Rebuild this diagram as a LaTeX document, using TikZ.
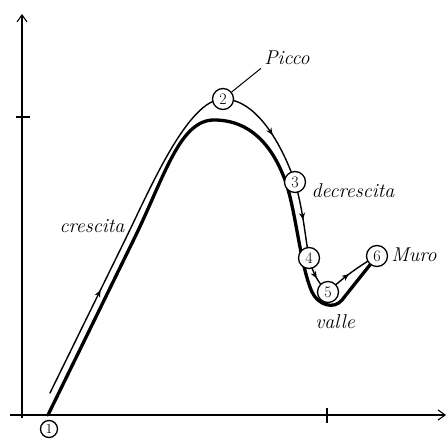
\documentclass[tikz,border=0pt]{standalone}
\usetikzlibrary{arrows.meta,decorations.markings}
\begin{document}
\begin{tikzpicture}[x=1pt,y=-1pt,
  axis/.style={line width=1.1pt,-{Straight Barb[length=7pt,width=10pt,line width=1.1pt]}},
  tickline/.style={line width=1.1pt},
  mainline/.style={line width=3.3pt,line cap=round,line join=round},
  trail/.style={line width=1.4pt,line cap=round},
  midarrow/.style={postaction={decorate,decoration={markings,mark=at position #1 with {\arrow{Stealth[length=7pt,width=6pt]}}}}},
  pt/.style={circle,draw,line width=1.3pt,fill=white,inner sep=0pt,minimum size=21pt,font=\fontsize{16}{16}\selectfont},
  lbl/.style={font=\itshape\fontsize{20}{20}\selectfont}]
\useasboundingbox (0,0) rectangle (448,441);
% axes
\coordinate (o) at (22,418);
\coordinate (ytop) at (22,14);
\coordinate (xl) at (10,415);
\coordinate (xr) at (446,415);
\draw[axis] (o) -- (ytop);
\draw[axis] (xl) -- (xr);
\draw[tickline] (327,408) -- (327,423);
\draw[tickline] (16,117) -- (30,117);
% point coordinates
\coordinate (p1) at (49,429);
\coordinate (p2) at (223,99);
\coordinate (p3) at (295,182);
\coordinate (p4) at (309,258);
\coordinate (p5) at (328,292);
\coordinate (p6) at (377,256);
\coordinate (s) at (50,393);
% main thick curve
\draw[mainline] (48,415) -- (135,237) .. controls (165,175) and (180,120) .. (214,120)
  .. controls (250,120) and (272,145) .. (285,180)
  .. controls (296,210) and (300,265) .. (312,292)
  .. controls (318,305) and (334,310) .. (342,300) -- (p6);
% thin trail with arrows
\draw[trail,midarrow=0.33] (s) -- (125,240) .. controls (150,189) and (188,99) .. (p2);
\draw[trail,midarrow=0.55] (p2) .. controls (255,99) and (280,140) .. (p3);
\draw[trail,midarrow=0.5] (p3) .. controls (303,210) and (305,235) .. (p4);
\draw[trail,midarrow=0.55] (p4) .. controls (313,275) and (320,285) .. (p5);
\draw[trail,midarrow=0.45] (p5) .. controls (340,280) and (360,265) .. (p6);
% circles
\node[pt,minimum size=17pt,font=\fontsize{14}{14}\selectfont] (c1) at (p1) {1};
\node[pt] (c2) at (p2) {2};
\node[pt] (c3) at (p3) {3};
\node[pt] (c4) at (p4) {4};
\node[pt] (c5) at (p5) {5};
\node[pt] (c6) at (p6) {6};
% labels
\node[lbl] (picco) at (287,58) {Picco};
\draw[line width=1pt] (c2) -- (picco.south west);
\node[lbl] (crescita) at (92,226) {crescita};
\node[lbl] (decrescita) at (353,191) {decrescita};
\node[lbl] (muro) at (414,255) {Muro};
\node[lbl] (valle) at (335,322) {valle};
\end{tikzpicture}
\end{document}
